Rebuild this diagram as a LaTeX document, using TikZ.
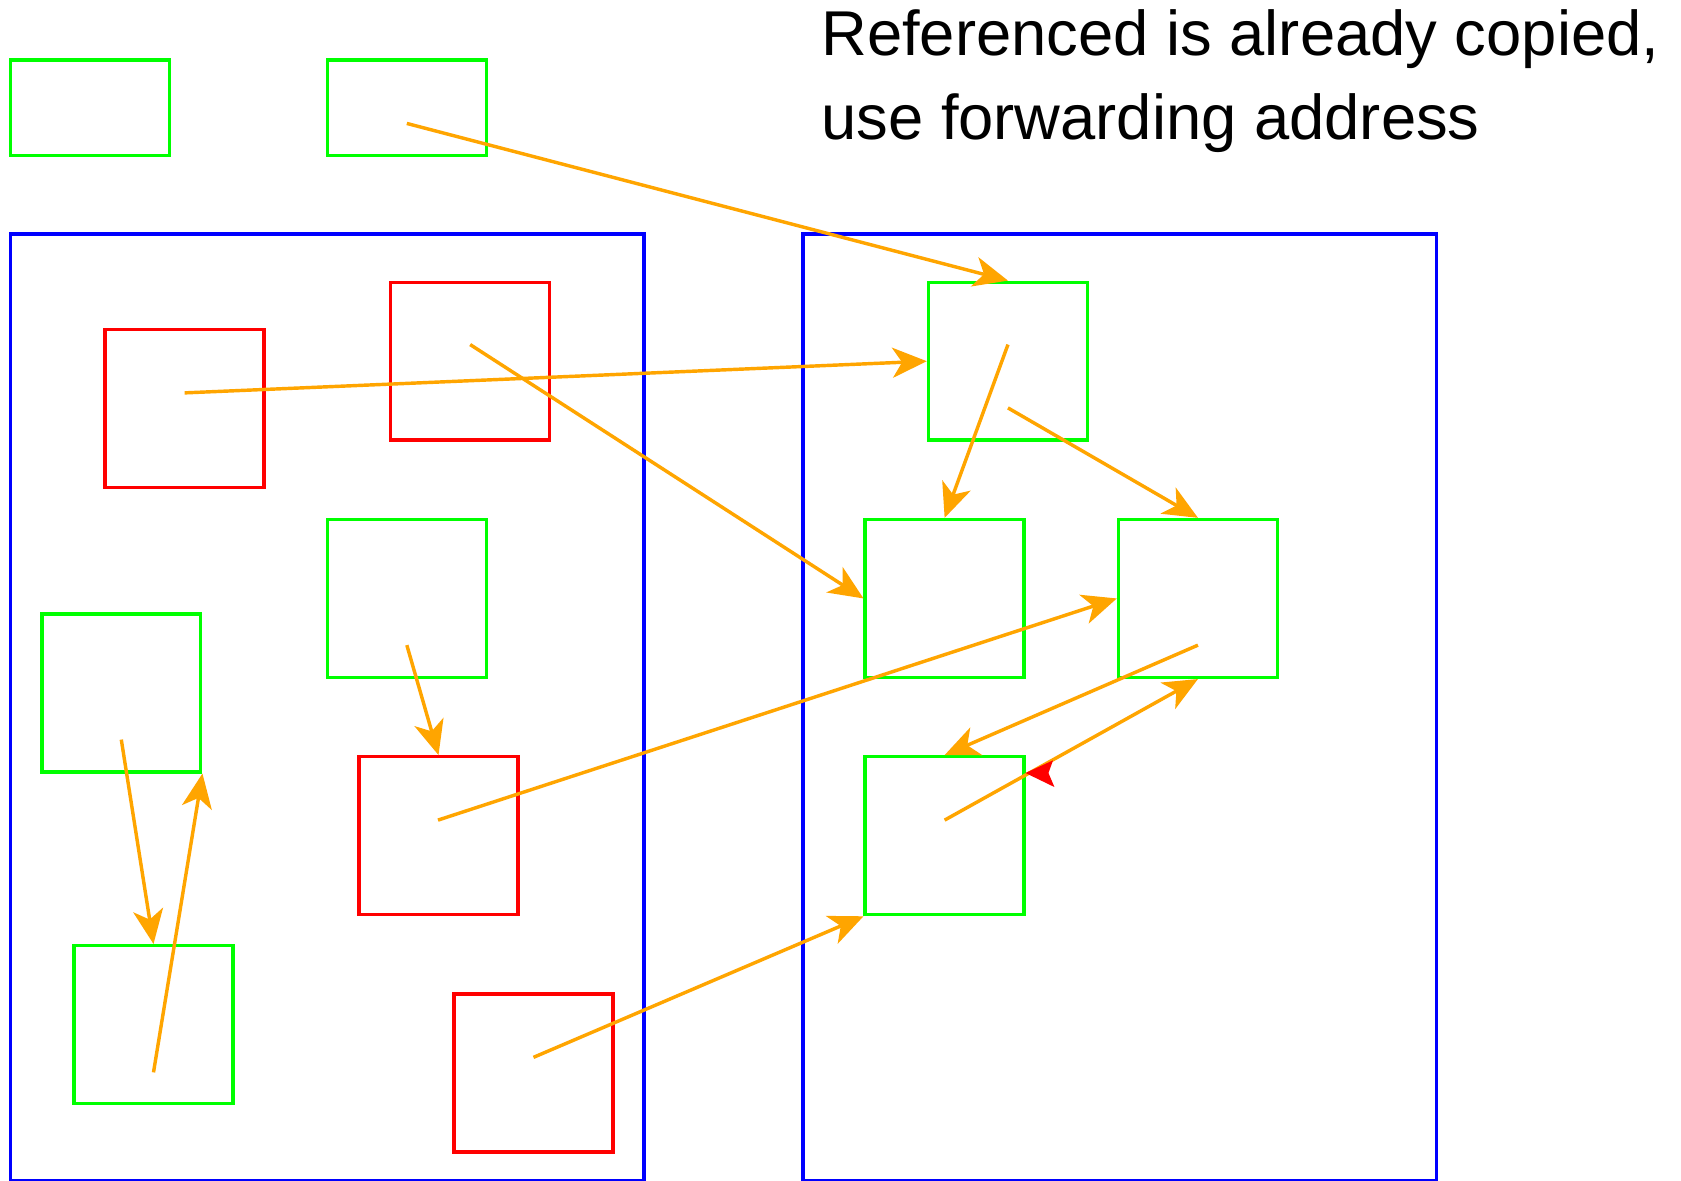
\documentclass[tikz,border=0pt]{standalone}
\usepackage{fontspec}
\setmainfont{Liberation Sans}
\usetikzlibrary{arrows.meta}
\definecolor{arrc}{HTML}{FFA500}
\definecolor{gc}{HTML}{00FF00}
\definecolor{rc}{HTML}{FF0000}
\definecolor{bc}{HTML}{0000FF}
\begin{document}
\begin{tikzpicture}[x=1pt,y=-1pt,
  box/.style={line width=3.2pt, inner sep=0pt, minimum width=148pt, minimum height=147pt},
  gbox/.style={box, draw=gc},
  rbox/.style={box, draw=rc},
  tbox/.style={gbox, minimum height=89pt},
  region/.style={draw=bc, line width=3.2pt},
  ptr/.style={draw=arrc, line width=3.2pt, -{Stealth[length=32pt, width=28pt, inset=9pt]}},
  lbl/.style={anchor=base west, inner sep=0pt, font=\fontsize{59}{78}\selectfont}
]
\useasboundingbox (0,0) rectangle (1566,1100);
\clip (0,0) rectangle (1566,1100);
\fill[white] (0,0) rectangle (1566,1100);

% regions
\draw[region] (10,218) rectangle (600,1100);
\draw[region] (748,218) rectangle (1338,1100);

% top boxes
\node[tbox] (T1) at (84,100.5) {};
\node[tbox] (T2) at (379,100.5) {};

% left region boxes
\node[rbox] (R1) at (172,380.5) {};
\node[rbox] (R2) at (438,336.5) {};
\node[gbox] (G3) at (379,557.5) {};
\node[gbox] (G4) at (113,645.5) {};
\node[rbox] (R3) at (408.5,778.5) {};
\node[gbox] (G5) at (143,954.5) {};
\node[rbox] (R4) at (497,999.5) {};

% right region boxes
\node[gbox] (GA) at (939,336.5) {};
\node[gbox] (GB) at (880,557.5) {};
\node[gbox] (GC) at (1116,557.5) {};
\node[gbox] (GD) at (880,778.5) {};

% start points
\coordinate (sT2) at (379,115);
\coordinate (sR1) at (172,366);
\coordinate (sR2) at (438,321);
\coordinate (sGA1) at (939,321);
\coordinate (sGA2) at (939,380);
\coordinate (sR3) at (408,764);
\coordinate (sGC) at (1116,601);
\coordinate (sGD) at (880,764);
\coordinate (sG3) at (379,601);
\coordinate (sG4) at (113,689);
\coordinate (sG5) at (143,999);
\coordinate (sR4) at (497,985);

% pointers
\draw[ptr] (sT2) -- (GA.north);
\draw[ptr] (sR1) -- (GA.west);
\draw[ptr] (sR2) -- (GB.west);
\draw[ptr] (sGA1) -- (GB.north);
\draw[ptr] (sGA2) -- (GC.north);
\draw[ptr] (sR3) -- (GC.west);
\draw[ptr] (sGC) -- (GD.north);
\draw[ptr] (sGD) -- (GC.south);
\draw[ptr] (sG3) -- (R3.north);
\draw[ptr] (sG4) -- (G5.north);
\draw[ptr] (sG5) -- (G4.south east);
\draw[ptr] (sR4) -- (GD.south west);

% red arrowhead
\fill[rc] (955.3,720.1) -- (981,708.3) -- (976.7,720.1) -- (982.3,733.2) -- cycle;

% text
\node[lbl] (L1) at (765,52) {Referenced is already copied,};
\node[lbl] (L2) at (765,130) {use forwarding address};
\end{tikzpicture}
\end{document}
